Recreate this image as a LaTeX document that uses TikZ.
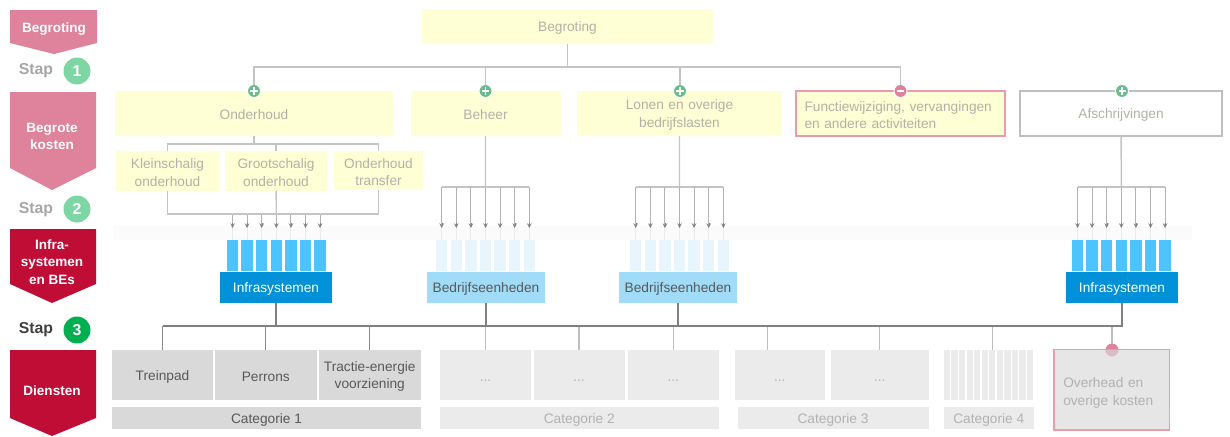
\documentclass[tikz,border=0pt]{standalone}
\usepackage{fontspec}
\setmainfont{Liberation Sans}
\usetikzlibrary{positioning}

\definecolor{budgetpink}{HTML}{DF829B}
\definecolor{darkred}{HTML}{C00D36}
\definecolor{softyellow}{HTML}{FFFFD5}
\definecolor{softtext}{HTML}{B2B2A8}
\definecolor{softgreen}{HTML}{7DD6A4}
\definecolor{stronggreen}{HTML}{00B050}
\definecolor{icongreen}{HTML}{6CBB8D}
\definecolor{strongblue}{HTML}{0091D8}
\definecolor{midblue}{HTML}{4DC3FF}
\definecolor{paleblue}{HTML}{A0DCF8}
\definecolor{faintblue}{HTML}{E8F5FC}
\definecolor{pinkline}{HTML}{EE9AAE}

\begin{document}
\begin{tikzpicture}[x=0.02cm, y=-0.02cm,
    every node/.style={inner sep=0pt, outer sep=0pt, font=\fontsize{7.8}{10}\selectfont, align=center},
    boxsize/.style 2 args={minimum width=#1*0.02cm, minimum height=#2*0.02cm},
    twolines/.style={text width=#1*0.02cm},
    lowtext/.style={execute at begin node={\rule{0pt}{7.4pt}}},
    costbox/.style={fill=softyellow, text=softtext, lowtext},
    removedbox/.style={fill=softyellow, draw=pinkline, line width=0.7pt, text=softtext, align=left, text width=192*0.02cm, lowtext},
    deprbox/.style={fill=white, draw=black!25, line width=0.7pt, text=softtext, lowtext},
    sysbox/.style={fill=strongblue, text=white, lowtext},
    unitbox/.style={fill=paleblue, text=black!65, lowtext},
    servicebox/.style={fill=black!15, text=black!65, lowtext},
    fadedbox/.style={fill=black!8, text=black!30, lowtext},
    overheadbox/.style={fill=black!15, fill opacity=0.67, text opacity=1, draw=pinkline, line width=0.7pt, text=black!30, align=left, text width=97*0.02cm,
        execute at begin node={\rule{0pt}{9.1pt}}},
    colfull/.style={fill=midblue, boxsize={11.5}{31}},
    colfaint/.style={fill=faintblue, boxsize={11.5}{31}},
    iconplus/.style={circle, fill=icongreen, draw=white, line width=0.5pt, minimum size=13*0.02cm,
        path picture={\draw[white, line width=0.8pt]
            ([xshift=-2pt]path picture bounding box.center) -- ([xshift=2pt]path picture bounding box.center)
            ([yshift=-2pt]path picture bounding box.center) -- ([yshift=2pt]path picture bounding box.center);}},
    iconminus/.style={circle, fill=budgetpink, draw=white, line width=0.5pt, minimum size=13*0.02cm,
        path picture={\draw[white, line width=0.9pt]
            ([xshift=-2.2pt]path picture bounding box.center) -- ([xshift=2.2pt]path picture bounding box.center);}},
    banner/.style={font=\fontsize{7.7}{10}\selectfont\bfseries, text=white},
    stap/.style={font=\fontsize{9}{11}\selectfont\bfseries},
    stapnum/.style={circle, minimum size=27*0.02cm, text=white, font=\fontsize{9}{11}\selectfont\bfseries},
    treeline/.style={draw=black!23, line width=0.8pt},
    combline/.style={draw=black!30, line width=0.5pt},
    tickarrow/.style={->, >=stealth, draw=black!50, line width=0.2pt},
    busline/.style={draw=black!50, line width=0.8pt},
    dropstrong/.style={draw=black!45, line width=0.7pt},
    dropfaint/.style={draw=black!25, line width=0.7pt}]
    \useasboundingbox (0,0) rectangle (1230,436);

    % Banners left
    \fill[budgetpink] (10,10) -- (97,10) -- (97,43) -- (54,54) -- (10,43) -- cycle;
    \fill[budgetpink] (10,92) -- (96,92) -- (96,168) -- (52,190) -- (10,168) -- cycle;
    \fill[darkred] (10,229) -- (96,229) -- (96,284) -- (52,303) -- (10,284) -- cycle;
    \fill[darkred] (10,350) -- (96,350) -- (96,418) -- (52,436) -- (10,418) -- cycle;
    \node[banner] (banbegroting) at (54,29.5) {Begroting};
    \node[banner] (bankosten) at (52,136.5) {Begrote\\kosten};
    \node[banner] (baninfra) at (52,262) {Infra-\\systemen\\en BEs};
    \node[banner] (bandiensten) at (52,391) {Diensten};

    % Steps
    \node[stap, text=black!35] (stap1) at (36,71) {Stap};
    \node[stapnum, fill=softgreen] (num1) at (77,71) {1};
    \node[stap, text=black!35] (stap2) at (36,210) {Stap};
    \node[stapnum, fill=softgreen] (num2) at (77,209) {2};
    \node[stap, text=black!75] (stap3) at (36,330) {Stap};
    \node[stapnum, fill=stronggreen] (num3) at (77,330) {3};

    % Cost boxes
    \node[costbox, boxsize={291}{35}] (begroting) at (567.5,26.5) {Begroting};
    \node[costbox, boxsize={278}{45}] (onderhoud) at (254,113.5) {Onderhoud};
    \node[costbox, boxsize={150}{45}] (beheer) at (485.5,113.5) {Beheer};
    \node[costbox, boxsize={205}{45}, twolines=205] (lonen) at (679.5,113.5) {Lonen en overige\\bedrijfslasten};
    \node[removedbox, boxsize={209}{45}] (functie) at (900.5,113.5) {Functiewijziging, vervangingen\\en andere activiteiten};
    \node[deprbox, boxsize={202}{45}] (afschrijving) at (1121,113.5) {Afschrijvingen};
    \node[costbox, boxsize={103}{40}, twolines=103] (klein) at (167.5,171) {Kleinschalig\\onderhoud};
    \node[costbox, boxsize={102}{40}, twolines=102] (groot) at (276,171) {Grootschalig\\onderhoud};
    \node[costbox, boxsize={89}{39}, twolines=89] (transfer) at (378.5,170.5) {Onderhoud\\transfer};

    % Icons
    \node[iconplus] (plusonderhoud) at (254,91) {};
    \node[iconplus] (plusbeheer) at (485.5,91) {};
    \node[iconplus] (pluslonen) at (680,91) {};
    \node[iconminus] (minfunctie) at (900.5,91) {};
    \node[iconplus] (plusafschrijving) at (1122,91) {};

    % Systems and units
    \node[sysbox, boxsize={112}{31}] (infra) at (276,287.5) {Infrasystemen};
    \node[unitbox, boxsize={118}{31}] (eenheid) at (486,287.5) {Bedrijfseenheden};
    \node[unitbox, boxsize={118}{31}] (eenheidb) at (678,287.5) {Bedrijfseenheden};
    \node[sysbox, boxsize={112}{31}] (infrab) at (1122,287.5) {Infrasystemen};

    % Services
    \node[servicebox, boxsize={101}{50}] (treinpad) at (162.5,375) {Treinpad};
    \node[servicebox, boxsize={101.5}{50}] (perrons) at (265.75,375) {Perrons};
    \node[servicebox, boxsize={102.5}{50}, twolines=102.5] (tractie) at (369.75,375) {Tractie-energie\\voorziening};
    \node[servicebox, boxsize={309}{22}] (cat1) at (266.5,418) {Categorie 1};
    \node[fadedbox, boxsize={91}{50}] (cattwoa) at (485.5,375) {...};
    \node[fadedbox, boxsize={91}{50}] (cattwob) at (579,375) {...};
    \node[fadedbox, boxsize={90.5}{50}] (cattwoc) at (673.25,375) {...};
    \node[fadedbox, boxsize={278.5}{22}] (cat2) at (579.25,418) {Categorie 2};
    \node[fadedbox, boxsize={90.5}{50}] (catthreea) at (779.75,375) {...};
    \node[fadedbox, boxsize={97.5}{50}] (catthreeb) at (879.75,375) {...};
    \node[fadedbox, boxsize={191}{22}] (cat3) at (833,418) {Categorie 3};
    \foreach \i in {0,...,11}
        \node[fill=black!8, boxsize={6.2}{50}] (catfour-\i) at ({947+\i*7.55},375) {};
    \node[fadedbox, boxsize={89.5}{22}] (cat4) at (988.75,418) {Categorie 4};
    \node[circle, fill=budgetpink, minimum size=13*0.02cm] (minoverhead) at (1112,350) {};
    \node[overheadbox, boxsize={115.5}{80.5}] (overhead) at (1111.75,389.75) {Overhead en\\overige kosten};

    % Columns with their feeding lines
    \foreach \comb/\first/\colstyle/\bartop in {combinfra/232.5/colfull/214, combbeheer/441.7/colfaint/187,
                                                comblonen/635.7/colfaint/187, combafschr/1077.5/colfull/187} {
        \foreach \i in {0,...,6}
            \node[\colstyle] (\comb-\i) at ({\first+\i*14.6},255.5) {};
        \coordinate (\comb-hub) at ({\first+3*14.6},\bartop);
        \draw[treeline] (\comb-0.north |- \comb-hub) -- (\comb-6.north |- \comb-hub);
        \foreach \i in {0,...,6}
            \draw[combline] (\comb-\i.north |- \comb-hub) -- (\comb-\i.north);
    }

    % Band across the columns
    \fill[black!2, opacity=0.8] (113,226) rectangle (1192,240);

    \foreach \comb in {combinfra,combbeheer,comblonen,combafschr}
        \foreach \i in {0,...,6}
            \draw[tickarrow] (\comb-\i.north) ++(0,-17) -- ++(0,5);

    % Cost lines
    \coordinate (topbar) at (567.5,67);
    \draw[treeline] (begroting) -- (topbar);
    \draw[treeline] (plusonderhoud) |- (topbar) -| (minfunctie);
    \draw[treeline] (topbar -| plusbeheer) -- (plusbeheer);
    \draw[treeline] (topbar -| pluslonen) -- (pluslonen);
    \coordinate (subbar) at (254,144);
    \draw[treeline] (onderhoud) -- (subbar);
    \draw[treeline] (klein) |- (subbar) -| (transfer);
    \draw[treeline] (groot) -- (groot |- subbar);
    \draw[treeline] (klein) |- (combinfra-hub) -| (transfer);
    \draw[treeline] (groot) -- (combinfra-hub);
    \draw[treeline] (beheer) -- (combbeheer-hub);
    \draw[treeline] (lonen) -- (comblonen-hub);
    \draw[treeline] (afschrijving) -- (combafschr-hub);

    % Service lines
    \coordinate (busend) at (1122,326);
    \foreach \from in {treinpad,perrons,tractie}
        \draw[dropstrong] (\from) -- (\from |- busend);
    \foreach \from in {cattwoa,cattwob,cattwoc,catthreeb}
        \draw[dropfaint] (\from) -- (\from |- busend);
    \coordinate (dropthree) at (767.5,326);
    \draw[dropfaint] (dropthree) -- (dropthree |- catthreea.north);
    \draw[dropfaint] (catfour-6) -- (catfour-6 |- busend);
    \draw[dropfaint] (minoverhead) -- (minoverhead |- busend);
    \draw[busline] (treinpad |- busend) -- (busend) -- (infrab);
    \draw[busline] (infra) -- (infra |- busend);
    \draw[busline] (eenheid) -- (eenheid |- busend);
    \draw[busline] (eenheidb) -- (eenheidb |- busend);

\end{tikzpicture}
\end{document}
